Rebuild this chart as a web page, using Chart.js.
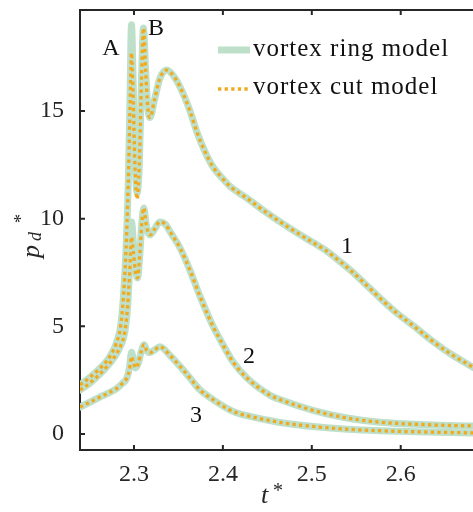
<!DOCTYPE html>
<html>
<head>
<meta charset="utf-8">
<script src="https://cdn.jsdelivr.net/npm/chart.js@4.4.1/dist/chart.umd.min.js"></script>
<style>
  html, body { margin: 0; padding: 0; background: #fff; }
  #wrap { width: 473px; height: 512px; }
</style>
</head>
<body>
<div id="wrap"><canvas id="chart" width="473" height="512"></canvas></div>
<script>
const T_MIN = 2.2393;
const T_MAX = 2.6813;
const P_MIN = -0.743;
const P_MAX = 19.69;
const T_TICKS = [2.3, 2.4, 2.5, 2.6];
const P_TICKS = [0, 5, 10, 15];

// case 1
const t1 = [2.2393, 2.2500, 2.2600, 2.2700, 2.2750, 2.2800, 2.2850, 2.2880, 2.2910, 2.2935,
  2.2955, 2.2972, 2.2990, 2.3010, 2.3035, 2.3060, 2.3085, 2.3107, 2.3130, 2.3155,
  2.3180, 2.3230, 2.3290, 2.3368, 2.3450, 2.3520, 2.3630, 2.3710, 2.3800, 2.3890,
  2.4000, 2.4080, 2.4180, 2.4270, 2.4450, 2.4755, 2.5010, 2.5150, 2.5320, 2.5450,
  2.5580, 2.5770, 2.5960, 2.6150, 2.6330, 2.6550, 2.6813];
const ring1 = [2.28, 2.62, 2.98, 3.42, 3.75, 4.2, 5.0, 6.3, 8.5, 11.5,
  15.5, 19.0, 16.5, 13.0, 11.2, 12.5, 16.5, 18.85, 17.0, 15.2,
  14.7, 15.5, 16.5, 16.9, 16.6, 16.1, 15.0, 14.0, 13.1, 12.4,
  11.85, 11.5, 11.2, 10.95, 10.4, 9.55, 8.9, 8.55, 8.0, 7.55,
  7.05, 6.3, 5.6, 5.0, 4.4, 3.75, 3.1];
const cut1 = [2.28, 2.62, 2.98, 3.42, 3.75, 4.2, 5.0, 6.3, 8.5, 11.5,
  15.0, 17.7, 15.8, 12.6, 10.9, 12.5, 16.5, 18.85, 17.0, 15.2,
  14.7, 15.5, 16.5, 16.9, 16.6, 16.1, 15.0, 14.0, 13.1, 12.4,
  11.85, 11.5, 11.2, 10.95, 10.4, 9.55, 8.9, 8.55, 8.0, 7.55,
  7.05, 6.3, 5.6, 5.0, 4.4, 3.75, 3.1];

// case 2
const t2 = [2.2393, 2.2500, 2.2600, 2.2700, 2.2800, 2.2850, 2.2900, 2.2930, 2.2952, 2.2972,
  2.2995, 2.3020, 2.3040, 2.3065, 2.3090, 2.3110, 2.3135, 2.3160, 2.3185, 2.3230,
  2.3290, 2.3350, 2.3420, 2.3517, 2.3630, 2.3742, 2.3889, 2.3967, 2.4114, 2.4271,
  2.4530, 2.4642, 2.5013, 2.5396, 2.5767, 2.6300, 2.6813];
const ring2 = [2.04, 2.35, 2.72, 3.15, 3.7, 4.1, 4.8, 6.0, 7.8, 9.85,
  8.8, 7.6, 7.25, 8.3, 9.9, 10.5, 9.8, 9.35, 9.25, 9.5,
  9.85, 9.75, 9.3, 8.65, 7.6, 6.4, 5.0, 4.4, 3.35, 2.6,
  1.8, 1.6, 1.1, 0.74, 0.55, 0.43, 0.37];
const cut2 = [2.04, 2.35, 2.72, 3.15, 3.7, 4.1, 4.8, 6.0, 7.5, 9.15,
  8.4, 7.4, 7.25, 8.3, 9.9, 10.5, 9.8, 9.35, 9.25, 9.5,
  9.85, 9.75, 9.3, 8.65, 7.6, 6.4, 5.0, 4.4, 3.35, 2.6,
  1.8, 1.6, 1.1, 0.74, 0.55, 0.43, 0.37];

// case 3
const t3 = [2.2393, 2.2500, 2.2600, 2.2700, 2.2800, 2.2870, 2.2920, 2.2950, 2.2972, 2.2995,
  2.3020, 2.3050, 2.3080, 2.3115, 2.3140, 2.3180, 2.3230, 2.3292, 2.3405, 2.3517,
  2.3630, 2.3742, 2.3889, 2.4114, 2.4271, 2.4496, 2.4700, 2.5013, 2.5400, 2.5767,
  2.6300, 2.6813];
const ring3 = [1.25, 1.47, 1.68, 1.88, 2.1, 2.35, 2.6, 3.1, 3.8, 3.4,
  3.07, 3.3, 3.8, 4.15, 3.9, 3.78, 3.9, 4.05, 3.65, 3.15,
  2.6, 2.05, 1.6, 1.05, 0.85, 0.65, 0.5, 0.35, 0.22, 0.15,
  0.09, 0.05];
const cut3 = [1.25, 1.47, 1.68, 1.88, 2.1, 2.35, 2.6, 3.0, 3.6, 3.3,
  3.07, 3.3, 3.8, 4.15, 3.9, 3.78, 3.9, 4.05, 3.65, 3.15,
  2.6, 2.05, 1.6, 1.05, 0.85, 0.65, 0.5, 0.35, 0.22, 0.15,
  0.09, 0.05];

// in-plot annotations (data coordinates, text baseline)
const NOTE_TEXT = ['A', 'B', '1', '2', '3'];
const NOTE_T = [2.2741, 2.3247, 2.5396, 2.4294, 2.3697];
const NOTE_P = [17.6, 18.53, 8.41, 3.30, 0.557];

const LEGEND_LABELS = ['vortex ring model', 'vortex cut model'];

const RING_COLOR = 'rgb(190, 223, 201)';
const CUT_COLOR = 'rgb(240, 170, 32)';
const AXIS_COLOR = '#262626';
const SERIF = '"Liberation Serif", "Times New Roman", serif';

function series(ts, vs) {
  return ts.map((t, i) => ({ x: t, y: vs[i] }));
}

const ringStyle = {
  borderColor: RING_COLOR,
  borderWidth: 7,
  borderCapStyle: 'round',
  borderJoinStyle: 'round',
  order: 1,
};
const cutStyle = {
  borderColor: CUT_COLOR,
  borderWidth: 3.3,
  borderDash: [3.3, 3.3],
  order: 0,
};
const lineCommon = {
  pointRadius: 0,
  fill: false,
  cubicInterpolationMode: 'monotone',
  clip: 0,
};

// box top edge, inward ticks, annotations, legend and axis titles
const decorations = {
  id: 'decorations',
  afterDraw(chart) {
    const { ctx, chartArea: a, scales: { x, y } } = chart;
    ctx.save();
    ctx.strokeStyle = AXIS_COLOR;
    ctx.lineWidth = 2;
    ctx.beginPath();
    ctx.moveTo(a.left - 1, a.top);
    ctx.lineTo(a.right, a.top);
    T_TICKS.forEach((v) => {
      const px = x.getPixelForValue(v);
      ctx.moveTo(px, a.bottom);
      ctx.lineTo(px, a.bottom - 5);
      ctx.moveTo(px, a.top);
      ctx.lineTo(px, a.top + 5);
    });
    P_TICKS.forEach((v) => {
      const py = y.getPixelForValue(v);
      ctx.moveTo(a.left, py);
      ctx.lineTo(a.left + 5, py);
    });
    ctx.stroke();

    // curve labels
    ctx.fillStyle = '#111';
    ctx.font = `24px ${SERIF}`;
    ctx.textAlign = 'center';
    ctx.textBaseline = 'alphabetic';
    NOTE_TEXT.forEach((s, i) => {
      ctx.fillText(s, x.getPixelForValue(NOTE_T[i]), y.getPixelForValue(NOTE_P[i]));
    });

    // legend
    const lx0 = 218, lx1 = 250;
    ctx.lineCap = 'butt';
    ctx.strokeStyle = RING_COLOR;
    ctx.lineWidth = 7;
    ctx.beginPath();
    ctx.moveTo(lx0, 50);
    ctx.lineTo(lx1, 50);
    ctx.stroke();
    ctx.strokeStyle = CUT_COLOR;
    ctx.lineWidth = 3.3;
    ctx.setLineDash([3.3, 3.3]);
    ctx.beginPath();
    ctx.moveTo(lx0, 89);
    ctx.lineTo(lx1, 89);
    ctx.stroke();
    ctx.setLineDash([]);
    ctx.font = `25px ${SERIF}`;
    ctx.textAlign = 'left';
    if ('letterSpacing' in ctx) ctx.letterSpacing = '1px';
    ctx.fillText(LEGEND_LABELS[0], 253, 56);
    ctx.fillText(LEGEND_LABELS[1], 253, 94);
    if ('letterSpacing' in ctx) ctx.letterSpacing = '0px';

    // x title: t*
    ctx.fillStyle = AXIS_COLOR;
    ctx.font = `italic 26px ${SERIF}`;
    ctx.fillText('t', 261, 503);
    ctx.font = `20px ${SERIF}`;
    ctx.fillText('*', 273, 497);

    // y title: p_d*
    ctx.translate(39, 258);
    ctx.rotate(-Math.PI / 2);
    ctx.font = `italic 26px ${SERIF}`;
    ctx.fillText('p', 0, 0);
    ctx.font = `italic 18px ${SERIF}`;
    ctx.fillText('d', 17, 2);
    ctx.font = `18px ${SERIF}`;
    ctx.fillText('*', 35, -12);
    ctx.restore();
  },
};

const tickFont = { family: SERIF, size: 24 };

new Chart(document.getElementById('chart'), {
  type: 'line',
  data: {
    datasets: [
      { label: LEGEND_LABELS[0], data: series(t1, ring1), ...ringStyle, ...lineCommon },
      { label: LEGEND_LABELS[0], data: series(t2, ring2), ...ringStyle, ...lineCommon },
      { label: LEGEND_LABELS[0], data: series(t3, ring3), ...ringStyle, ...lineCommon },
      { label: LEGEND_LABELS[1], data: series(t1, cut1), ...cutStyle, ...lineCommon },
      { label: LEGEND_LABELS[1], data: series(t2, cut2), ...cutStyle, ...lineCommon },
      { label: LEGEND_LABELS[1], data: series(t3, cut3), ...cutStyle, ...lineCommon },
    ],
  },
  options: {
    responsive: false,
    animation: false,
    events: [],
    layout: { padding: { top: 10, right: 0, bottom: 0, left: 0 } },
    plugins: {
      legend: { display: false },
      tooltip: { enabled: false },
    },
    scales: {
      x: {
        type: 'linear',
        min: T_MIN,
        max: T_MAX,
        afterBuildTicks: (s) => { s.ticks = T_TICKS.map((v) => ({ value: v })); },
        afterFit: (s) => {
          s.height = 62;
          s.paddingLeft = 0;
          s.paddingRight = 0;
        },
        grid: { display: false },
        border: { display: true, color: AXIS_COLOR, width: 2 },
        ticks: {
          color: AXIS_COLOR,
          font: tickFont,
          padding: 2,
          maxRotation: 0,
          autoSkip: false,
          callback: (v) => v.toFixed(1),
        },
      },
      y: {
        type: 'linear',
        min: P_MIN,
        max: P_MAX,
        afterBuildTicks: (s) => { s.ticks = P_TICKS.map((v) => ({ value: v })); },
        afterFit: (s) => {
          s.width = 80;
          s.paddingTop = 0;
          s.paddingBottom = 0;
        },
        grid: { display: false },
        border: { display: true, color: AXIS_COLOR, width: 2 },
        ticks: {
          color: AXIS_COLOR,
          font: tickFont,
          padding: 8,
          autoSkip: false,
          callback: (v) => String(v),
        },
      },
    },
  },
  plugins: [decorations],
});
</script>
</body>
</html>
